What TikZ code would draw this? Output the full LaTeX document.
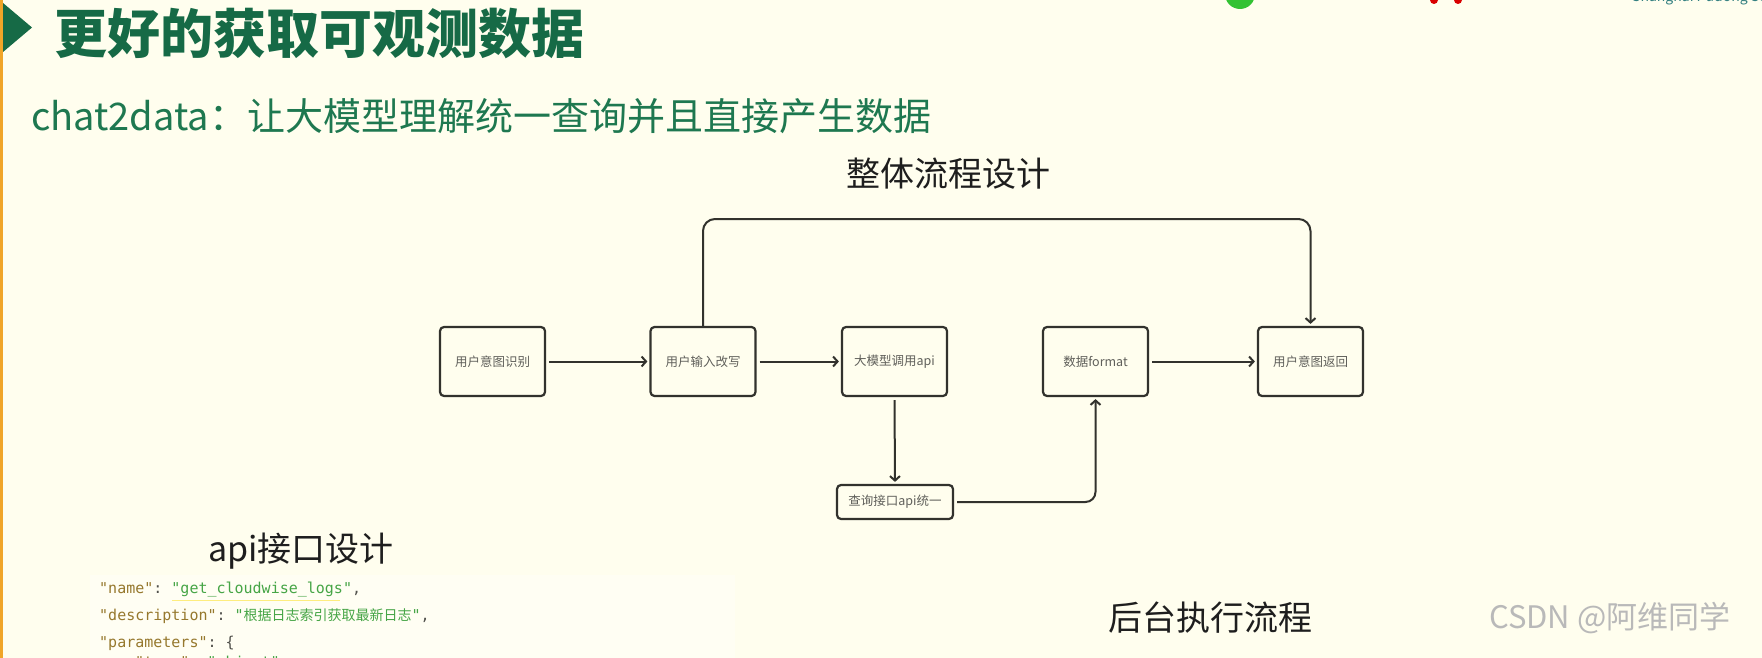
\documentclass[tikz,border=0pt]{standalone}
\usepackage{fontspec}
\setmainfont{Noto Sans CJK SC}
\setmonofont{DejaVu Sans Mono}
\newfontfamily\cjk{Noto Sans CJK SC}
\usetikzlibrary{arrows.meta}
\definecolor{bg}{RGB}{255,254,238}
\definecolor{titlegreen}{RGB}{22,106,70}
\definecolor{subgreen}{RGB}{30,120,80}
\definecolor{orangeline}{RGB}{240,165,40}
\definecolor{boxline}{RGB}{50,50,45}
\definecolor{boxtext}{RGB}{95,95,90}
\definecolor{keycol}{RGB}{150,120,45}
\definecolor{valcol}{RGB}{70,165,70}
\definecolor{punct}{RGB}{80,80,75}
\definecolor{heading}{RGB}{30,30,30}
\tikzset{
  flowbox/.style={draw=boxline, line width=2.2pt, rounded corners=4pt, fill=bg,
    minimum width=105pt, minimum height=69pt, inner sep=0pt,
    text=boxtext, font=\fontsize{12.5}{14}\selectfont},
  smallbox/.style={flowbox, minimum width=116pt, minimum height=34pt},
  conn/.style={draw=boxline, line width=2pt,
    -{Straight Barb[length=4.5pt,width=10pt,line width=2pt]},
    shorten >=2pt, shorten <=3pt},
  headtext/.style={text=heading, inner sep=0pt, font=\fontsize{34}{36}\selectfont},
  codeline/.style={anchor=base west, inner sep=0pt, font=\ttfamily\fontsize{15}{17}\selectfont}
}
\begin{document}
\begin{tikzpicture}[x=1pt,y=-1pt]
\useasboundingbox (0,0) rectangle (1762,658);
\clip (0,0) rectangle (1762,658);
\fill[bg] (0,0) rectangle (1762,658);
% faint lighter code area
\fill[white, opacity=0.35] (90,575) rectangle (735,658);
% left orange edge and title marker
\fill[orangeline] (0,0) rectangle (2.5,658);
\fill[titlegreen] (3,3) -- (32,27.5) -- (3,52) -- cycle;
% top-right partial logos
\fill[green!70!black!80] (1240,-6) circle (15);
\fill[red!85!black] (1434,0) circle (4);
\fill[red!85!black] (1458,0) circle (4);
\node[anchor=base west, inner sep=0pt, text=teal!60!gray, font=\fontsize{14}{14}\selectfont] (logo) at (1632,2) {Shanghai Pudong Servi};
% titles
\node[anchor=west, inner sep=0pt, text=titlegreen, font=\fontsize{53}{56}\bfseries] (title) at (54,33) {更好的获取可观测数据};
\node[anchor=west, inner sep=0pt, text=subgreen, font=\fontsize{38}{40}\selectfont] (subtitle) at (31,116) {chat2data：让大模型理解统一查询并且直接产生数据};
\node[headtext] (flowtitle) at (948,174) {整体流程设计};
% flow boxes
\node[flowbox] (A) at (492.5,361.5) {用户意图识别};
\node[flowbox] (B) at (703,361.5) {用户输入改写};
\node[flowbox] (C) at (894.5,361.5) {大模型调用api};
\node[flowbox] (D) at (1095.5,361.5) {数据format};
\node[flowbox] (E) at (1310.5,361.5) {用户意图返回};
\node[smallbox] (F) at (895,502) {查询接口api统一};
\coordinate (loopL) at (703,219);
\coordinate (loopR) at (1310.5,219);
% connectors
\draw[conn] (A) -- (B);
\draw[conn] (B) -- (C);
\draw[conn] (D) -- (E);
\draw[conn, rounded corners=12pt, shorten <=0pt] (B.north) -- (loopL) -- (loopR) -- (E.north);
\draw[conn] (C.south) -- (F.north);
\draw[conn, rounded corners=10pt] (F.east) -| (D.south);
% api section
\node[headtext] (apititle) at (301,551) {api接口设计};
\draw[yellow!80!orange!50, line width=1.2pt] (172,600.5) -- (340,600.5);
\node[codeline] (code1) at (99,593) {\textcolor{keycol}{"name"}\textcolor{punct}{: }\textcolor{valcol}{"get\_cloudwise\_logs"}\textcolor{punct}{,}};
\node[codeline] (code2) at (99,620) {\textcolor{keycol}{"description"}\textcolor{punct}{: }\textcolor{valcol}{"{\cjk\fontsize{14}{16}\selectfont 根据日志索引获取最新日志}"}\textcolor{punct}{,}};
\node[codeline] (code3) at (99,647) {\textcolor{keycol}{"parameters"}\textcolor{punct}{: \{}};
\node[codeline] (code4) at (99,667) {\hspace*{36pt}\textcolor{keycol}{"type"}\textcolor{punct}{: }\textcolor{valcol}{"object"}};
% backend section
\node[headtext] (backtitle) at (1210,618) {后台执行流程};
\node[anchor=west, inner sep=0pt, text=gray!55, font=\fontsize{31}{33}\selectfont] (watermark) at (1489,618) {CSDN @阿维同学};
\end{tikzpicture}
\end{document}
